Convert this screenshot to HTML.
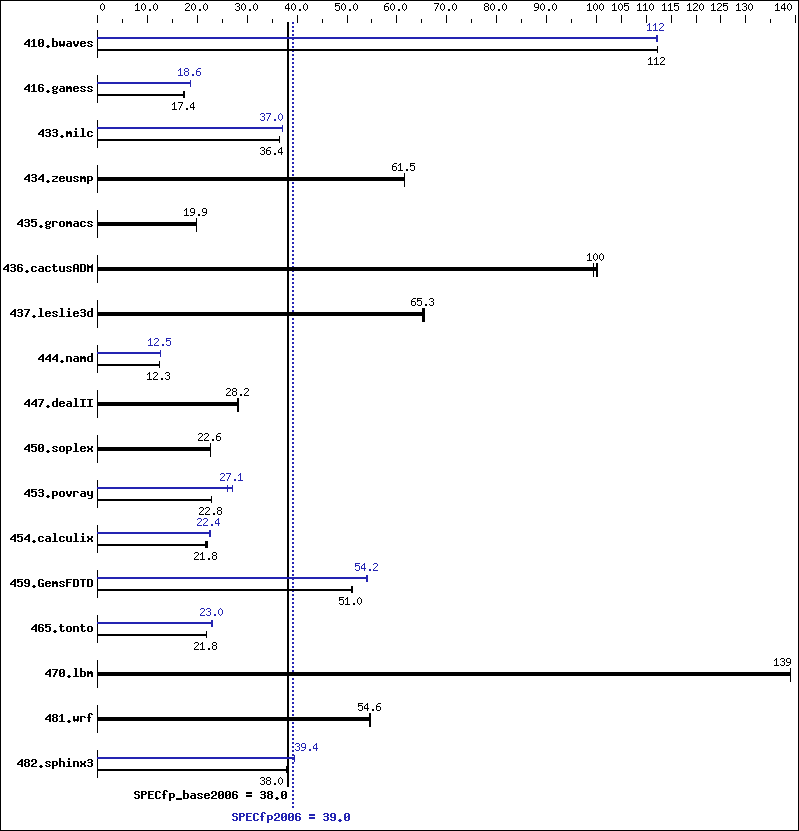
<!DOCTYPE html>
<html><head><meta charset="utf-8"><title>SPECfp2006</title>
<style>html,body{margin:0;padding:0;background:#fff;font-family:"Liberation Sans",sans-serif;}svg{display:block;}</style>
</head><body>
<svg width="799" height="831" viewBox="0 0 799 831" shape-rendering="crispEdges">
<defs><path id="r_0" d="M2 0h1v1h-1zM1 1h1v1h-1zM3 1h1v1h-1zM0 2h1v1h-1zM4 2h1v1h-1zM0 3h1v1h-1zM4 3h1v1h-1zM0 4h1v1h-1zM4 4h1v1h-1zM0 5h1v1h-1zM4 5h1v1h-1zM1 6h1v1h-1zM3 6h1v1h-1zM2 7h1v1h-1z"/><path id="r_1" d="M2 0h1v1h-1zM1 1h2v1h-2zM0 2h1v1h-1zM2 2h1v1h-1zM2 3h1v1h-1zM2 4h1v1h-1zM2 5h1v1h-1zM2 6h1v1h-1zM0 7h5v1h-5z"/><path id="r_2" d="M1 0h3v1h-3zM0 1h1v1h-1zM4 1h1v1h-1zM4 2h1v1h-1zM3 3h1v1h-1zM2 4h1v1h-1zM1 5h1v1h-1zM0 6h1v1h-1zM0 7h5v1h-5z"/><path id="r_3" d="M1 0h3v1h-3zM0 1h1v1h-1zM4 1h1v1h-1zM4 2h1v1h-1zM2 3h2v1h-2zM4 4h1v1h-1zM4 5h1v1h-1zM0 6h1v1h-1zM4 6h1v1h-1zM1 7h3v1h-3z"/><path id="r_4" d="M3 0h1v1h-1zM2 1h2v1h-2zM1 2h1v1h-1zM3 2h1v1h-1zM0 3h1v1h-1zM3 3h1v1h-1zM0 4h1v1h-1zM3 4h1v1h-1zM0 5h5v1h-5zM3 6h1v1h-1zM3 7h1v1h-1z"/><path id="r_5" d="M0 0h5v1h-5zM0 1h1v1h-1zM0 2h4v1h-4zM0 3h1v1h-1zM4 3h1v1h-1zM4 4h1v1h-1zM4 5h1v1h-1zM0 6h1v1h-1zM4 6h1v1h-1zM1 7h3v1h-3z"/><path id="r_6" d="M2 0h3v1h-3zM1 1h1v1h-1zM0 2h1v1h-1zM0 3h4v1h-4zM0 4h1v1h-1zM4 4h1v1h-1zM0 5h1v1h-1zM4 5h1v1h-1zM0 6h1v1h-1zM4 6h1v1h-1zM1 7h3v1h-3z"/><path id="r_7" d="M0 0h5v1h-5zM4 1h1v1h-1zM3 2h1v1h-1zM3 3h1v1h-1zM2 4h1v1h-1zM2 5h1v1h-1zM1 6h1v1h-1zM1 7h1v1h-1z"/><path id="r_8" d="M1 0h3v1h-3zM0 1h1v1h-1zM4 1h1v1h-1zM0 2h1v1h-1zM4 2h1v1h-1zM1 3h3v1h-3zM0 4h1v1h-1zM4 4h1v1h-1zM0 5h1v1h-1zM4 5h1v1h-1zM0 6h1v1h-1zM4 6h1v1h-1zM1 7h3v1h-3z"/><path id="r_9" d="M1 0h3v1h-3zM0 1h1v1h-1zM4 1h1v1h-1zM0 2h1v1h-1zM4 2h1v1h-1zM0 3h1v1h-1zM4 3h1v1h-1zM1 4h4v1h-4zM4 5h1v1h-1zM3 6h1v1h-1zM0 7h3v1h-3z"/><path id="r_dot" d="M2 6h2v1h-2zM2 7h2v1h-2z"/><path id="b_0" d="M1 0h4v1h-4zM0 1h2v1h-2zM4 1h2v1h-2zM0 2h2v1h-2zM4 2h2v1h-2zM0 3h2v1h-2zM3 3h3v1h-3zM0 4h3v1h-3zM4 4h2v1h-2zM0 5h2v1h-2zM4 5h2v1h-2zM0 6h2v1h-2zM4 6h2v1h-2zM1 7h4v1h-4z"/><path id="b_1" d="M2 0h2v1h-2zM1 1h3v1h-3zM0 2h1v1h-1zM2 2h2v1h-2zM2 3h2v1h-2zM2 4h2v1h-2zM2 5h2v1h-2zM2 6h2v1h-2zM0 7h6v1h-6z"/><path id="b_2" d="M1 0h4v1h-4zM0 1h2v1h-2zM4 1h2v1h-2zM0 2h2v1h-2zM4 2h2v1h-2zM4 3h2v1h-2zM2 4h3v1h-3zM1 5h2v1h-2zM0 6h2v1h-2zM0 7h6v1h-6z"/><path id="b_3" d="M1 0h4v1h-4zM0 1h2v1h-2zM4 1h2v1h-2zM4 2h2v1h-2zM1 3h4v1h-4zM4 4h2v1h-2zM4 5h2v1h-2zM0 6h2v1h-2zM4 6h2v1h-2zM1 7h4v1h-4z"/><path id="b_4" d="M4 0h2v1h-2zM3 1h3v1h-3zM2 2h4v1h-4zM1 3h2v1h-2zM4 3h2v1h-2zM0 4h2v1h-2zM4 4h2v1h-2zM0 5h6v1h-6zM4 6h2v1h-2zM4 7h2v1h-2z"/><path id="b_5" d="M0 0h6v1h-6zM0 1h2v1h-2zM0 2h5v1h-5zM0 3h2v1h-2zM4 3h2v1h-2zM4 4h2v1h-2zM4 5h2v1h-2zM0 6h2v1h-2zM4 6h2v1h-2zM1 7h4v1h-4z"/><path id="b_6" d="M1 0h4v1h-4zM0 1h2v1h-2zM4 1h2v1h-2zM0 2h2v1h-2zM0 3h5v1h-5zM0 4h2v1h-2zM4 4h2v1h-2zM0 5h2v1h-2zM4 5h2v1h-2zM0 6h2v1h-2zM4 6h2v1h-2zM1 7h4v1h-4z"/><path id="b_7" d="M0 0h6v1h-6zM4 1h2v1h-2zM3 2h2v1h-2zM3 3h2v1h-2zM2 4h2v1h-2zM2 5h2v1h-2zM1 6h2v1h-2zM1 7h2v1h-2z"/><path id="b_8" d="M1 0h4v1h-4zM0 1h2v1h-2zM4 1h2v1h-2zM0 2h2v1h-2zM4 2h2v1h-2zM1 3h4v1h-4zM0 4h2v1h-2zM4 4h2v1h-2zM0 5h2v1h-2zM4 5h2v1h-2zM0 6h2v1h-2zM4 6h2v1h-2zM1 7h4v1h-4z"/><path id="b_9" d="M1 0h4v1h-4zM0 1h2v1h-2zM4 1h2v1h-2zM0 2h2v1h-2zM4 2h2v1h-2zM0 3h2v1h-2zM4 3h2v1h-2zM1 4h5v1h-5zM4 5h2v1h-2zM0 6h2v1h-2zM4 6h2v1h-2zM1 7h4v1h-4z"/><path id="b_dot" d="M2 6h2v1h-2zM1 7h4v1h-4zM2 8h2v1h-2z"/><path id="b_a" d="M1 2h4v1h-4zM4 3h2v1h-2zM1 4h5v1h-5zM0 5h2v1h-2zM4 5h2v1h-2zM0 6h2v1h-2zM4 6h2v1h-2zM1 7h5v1h-5z"/><path id="b_b" d="M0 -1h2v1h-2zM0 0h2v1h-2zM0 1h2v1h-2zM0 2h5v1h-5zM0 3h2v1h-2zM4 3h2v1h-2zM0 4h2v1h-2zM4 4h2v1h-2zM0 5h2v1h-2zM4 5h2v1h-2zM0 6h2v1h-2zM4 6h2v1h-2zM0 7h5v1h-5z"/><path id="b_c" d="M1 2h4v1h-4zM0 3h2v1h-2zM4 3h2v1h-2zM0 4h2v1h-2zM0 5h2v1h-2zM0 6h2v1h-2zM4 6h2v1h-2zM1 7h4v1h-4z"/><path id="b_d" d="M4 -1h2v1h-2zM4 0h2v1h-2zM4 1h2v1h-2zM1 2h5v1h-5zM0 3h2v1h-2zM4 3h2v1h-2zM0 4h2v1h-2zM4 4h2v1h-2zM0 5h2v1h-2zM4 5h2v1h-2zM0 6h2v1h-2zM4 6h2v1h-2zM1 7h5v1h-5z"/><path id="b_e" d="M1 2h4v1h-4zM0 3h2v1h-2zM4 3h2v1h-2zM0 4h6v1h-6zM0 5h2v1h-2zM0 6h2v1h-2zM4 6h2v1h-2zM1 7h4v1h-4z"/><path id="b_f" d="M2 -1h3v1h-3zM1 0h2v1h-2zM4 0h2v1h-2zM1 1h2v1h-2zM1 2h2v1h-2zM0 3h4v1h-4zM1 4h2v1h-2zM1 5h2v1h-2zM1 6h2v1h-2zM1 7h2v1h-2z"/><path id="b_g" d="M1 2h3v1h-3zM5 2h1v1h-1zM0 3h2v1h-2zM4 3h2v1h-2zM0 4h2v1h-2zM4 4h2v1h-2zM1 5h4v1h-4zM0 6h2v1h-2zM1 7h4v1h-4zM0 8h2v1h-2zM4 8h2v1h-2zM1 9h4v1h-4z"/><path id="b_h" d="M0 -1h2v1h-2zM0 0h2v1h-2zM0 1h2v1h-2zM0 2h5v1h-5zM0 3h2v1h-2zM4 3h2v1h-2zM0 4h2v1h-2zM4 4h2v1h-2zM0 5h2v1h-2zM4 5h2v1h-2zM0 6h2v1h-2zM4 6h2v1h-2zM0 7h2v1h-2zM4 7h2v1h-2z"/><path id="b_i" d="M2 -1h2v1h-2zM2 0h2v1h-2zM1 2h3v1h-3zM2 3h2v1h-2zM2 4h2v1h-2zM2 5h2v1h-2zM2 6h2v1h-2zM0 7h6v1h-6z"/><path id="b_l" d="M1 -1h3v1h-3zM2 0h2v1h-2zM2 1h2v1h-2zM2 2h2v1h-2zM2 3h2v1h-2zM2 4h2v1h-2zM2 5h2v1h-2zM2 6h2v1h-2zM0 7h6v1h-6z"/><path id="b_m" d="M0 2h2v1h-2zM3 2h2v1h-2zM0 3h6v1h-6zM0 4h6v1h-6zM0 5h2v1h-2zM4 5h2v1h-2zM0 6h2v1h-2zM4 6h2v1h-2zM0 7h2v1h-2zM4 7h2v1h-2z"/><path id="b_n" d="M0 2h5v1h-5zM0 3h2v1h-2zM4 3h2v1h-2zM0 4h2v1h-2zM4 4h2v1h-2zM0 5h2v1h-2zM4 5h2v1h-2zM0 6h2v1h-2zM4 6h2v1h-2zM0 7h2v1h-2zM4 7h2v1h-2z"/><path id="b_o" d="M1 2h4v1h-4zM0 3h2v1h-2zM4 3h2v1h-2zM0 4h2v1h-2zM4 4h2v1h-2zM0 5h2v1h-2zM4 5h2v1h-2zM0 6h2v1h-2zM4 6h2v1h-2zM1 7h4v1h-4z"/><path id="b_p" d="M0 2h5v1h-5zM0 3h2v1h-2zM4 3h2v1h-2zM0 4h2v1h-2zM4 4h2v1h-2zM0 5h2v1h-2zM4 5h2v1h-2zM0 6h5v1h-5zM0 7h2v1h-2zM0 8h2v1h-2zM0 9h2v1h-2z"/><path id="b_r" d="M0 2h5v1h-5zM0 3h2v1h-2zM4 3h2v1h-2zM0 4h2v1h-2zM0 5h2v1h-2zM0 6h2v1h-2zM0 7h2v1h-2z"/><path id="b_s" d="M1 2h4v1h-4zM0 3h2v1h-2zM4 3h2v1h-2zM1 4h2v1h-2zM3 5h2v1h-2zM0 6h2v1h-2zM4 6h2v1h-2zM1 7h4v1h-4z"/><path id="b_t" d="M1 0h2v1h-2zM1 1h2v1h-2zM0 2h5v1h-5zM1 3h2v1h-2zM1 4h2v1h-2zM1 5h2v1h-2zM1 6h2v1h-2zM4 6h2v1h-2zM2 7h3v1h-3z"/><path id="b_u" d="M0 2h2v1h-2zM4 2h2v1h-2zM0 3h2v1h-2zM4 3h2v1h-2zM0 4h2v1h-2zM4 4h2v1h-2zM0 5h2v1h-2zM4 5h2v1h-2zM0 6h2v1h-2zM4 6h2v1h-2zM1 7h5v1h-5z"/><path id="b_v" d="M0 2h2v1h-2zM4 2h2v1h-2zM0 3h2v1h-2zM4 3h2v1h-2zM0 4h2v1h-2zM4 4h2v1h-2zM1 5h4v1h-4zM1 6h4v1h-4zM2 7h2v1h-2z"/><path id="b_w" d="M0 2h2v1h-2zM4 2h2v1h-2zM0 3h2v1h-2zM4 3h2v1h-2zM0 4h2v1h-2zM4 4h2v1h-2zM0 5h6v1h-6zM0 6h6v1h-6zM1 7h1v1h-1zM4 7h1v1h-1z"/><path id="b_x" d="M0 2h2v1h-2zM4 2h2v1h-2zM0 3h2v1h-2zM4 3h2v1h-2zM1 4h4v1h-4zM1 5h4v1h-4zM0 6h2v1h-2zM4 6h2v1h-2zM0 7h2v1h-2zM4 7h2v1h-2z"/><path id="b_y" d="M0 2h2v1h-2zM4 2h2v1h-2zM0 3h2v1h-2zM4 3h2v1h-2zM0 4h2v1h-2zM4 4h2v1h-2zM0 5h2v1h-2zM4 5h2v1h-2zM1 6h5v1h-5zM4 7h2v1h-2zM4 8h2v1h-2zM1 9h4v1h-4z"/><path id="b_z" d="M0 2h6v1h-6zM4 3h2v1h-2zM3 4h2v1h-2zM1 5h2v1h-2zM0 6h2v1h-2zM0 7h6v1h-6z"/><path id="b_UA" d="M1 0h4v1h-4zM0 1h2v1h-2zM4 1h2v1h-2zM0 2h2v1h-2zM4 2h2v1h-2zM0 3h2v1h-2zM4 3h2v1h-2zM0 4h6v1h-6zM0 5h2v1h-2zM4 5h2v1h-2zM0 6h2v1h-2zM4 6h2v1h-2zM0 7h2v1h-2zM4 7h2v1h-2z"/><path id="b_UC" d="M1 0h4v1h-4zM0 1h2v1h-2zM4 1h2v1h-2zM0 2h2v1h-2zM0 3h2v1h-2zM0 4h2v1h-2zM0 5h2v1h-2zM0 6h2v1h-2zM4 6h2v1h-2zM1 7h4v1h-4z"/><path id="b_UD" d="M0 0h5v1h-5zM0 1h2v1h-2zM4 1h2v1h-2zM0 2h2v1h-2zM4 2h2v1h-2zM0 3h2v1h-2zM4 3h2v1h-2zM0 4h2v1h-2zM4 4h2v1h-2zM0 5h2v1h-2zM4 5h2v1h-2zM0 6h2v1h-2zM4 6h2v1h-2zM0 7h5v1h-5z"/><path id="b_UE" d="M0 0h6v1h-6zM0 1h2v1h-2zM0 2h2v1h-2zM0 3h5v1h-5zM0 4h2v1h-2zM0 5h2v1h-2zM0 6h2v1h-2zM0 7h6v1h-6z"/><path id="b_UF" d="M0 0h6v1h-6zM0 1h2v1h-2zM0 2h2v1h-2zM0 3h5v1h-5zM0 4h2v1h-2zM0 5h2v1h-2zM0 6h2v1h-2zM0 7h2v1h-2z"/><path id="b_UG" d="M1 0h4v1h-4zM0 1h2v1h-2zM4 1h2v1h-2zM0 2h2v1h-2zM0 3h2v1h-2zM0 4h2v1h-2zM3 4h3v1h-3zM0 5h2v1h-2zM4 5h2v1h-2zM0 6h2v1h-2zM4 6h2v1h-2zM1 7h5v1h-5z"/><path id="b_UI" d="M0 0h6v1h-6zM2 1h2v1h-2zM2 2h2v1h-2zM2 3h2v1h-2zM2 4h2v1h-2zM2 5h2v1h-2zM2 6h2v1h-2zM0 7h6v1h-6z"/><path id="b_UM" d="M0 0h1v1h-1zM5 0h1v1h-1zM0 1h2v1h-2zM4 1h2v1h-2zM0 2h6v1h-6zM0 3h6v1h-6zM0 4h2v1h-2zM4 4h2v1h-2zM0 5h2v1h-2zM4 5h2v1h-2zM0 6h2v1h-2zM4 6h2v1h-2zM0 7h2v1h-2zM4 7h2v1h-2z"/><path id="b_UP" d="M0 0h5v1h-5zM0 1h2v1h-2zM4 1h2v1h-2zM0 2h2v1h-2zM4 2h2v1h-2zM0 3h5v1h-5zM0 4h2v1h-2zM0 5h2v1h-2zM0 6h2v1h-2zM0 7h2v1h-2z"/><path id="b_US" d="M1 0h4v1h-4zM0 1h2v1h-2zM4 1h2v1h-2zM0 2h2v1h-2zM1 3h4v1h-4zM4 4h2v1h-2zM4 5h2v1h-2zM0 6h2v1h-2zM4 6h2v1h-2zM1 7h4v1h-4z"/><path id="b_UT" d="M0 0h6v1h-6zM2 1h2v1h-2zM2 2h2v1h-2zM2 3h2v1h-2zM2 4h2v1h-2zM2 5h2v1h-2zM2 6h2v1h-2zM2 7h2v1h-2z"/><path id="b_us" d="M0 7h6v1h-6zM0 8h6v1h-6z"/><path id="b_eq" d="M0 1h6v1h-6zM0 2h6v1h-6zM0 4h6v1h-6zM0 5h6v1h-6z"/></defs>
<rect x="0" y="0" width="799" height="831" fill="#fff"/>
<rect x="0" y="0" width="799" height="1" fill="#000"/>
<rect x="0" y="830" width="799" height="1" fill="#000"/>
<rect x="0" y="0" width="1" height="831" fill="#000"/>
<rect x="798" y="0" width="1" height="831" fill="#000"/>
<rect x="97" y="15" width="1" height="8" fill="#000"/>
<rect x="147" y="15" width="1" height="8" fill="#000"/>
<rect x="197" y="15" width="1" height="8" fill="#000"/>
<rect x="247" y="15" width="1" height="8" fill="#000"/>
<rect x="297" y="15" width="1" height="8" fill="#000"/>
<rect x="347" y="15" width="1" height="8" fill="#000"/>
<rect x="396" y="15" width="1" height="8" fill="#000"/>
<rect x="446" y="15" width="1" height="8" fill="#000"/>
<rect x="496" y="15" width="1" height="8" fill="#000"/>
<rect x="546" y="15" width="1" height="8" fill="#000"/>
<rect x="596" y="15" width="1" height="8" fill="#000"/>
<rect x="621" y="15" width="1" height="8" fill="#000"/>
<rect x="646" y="15" width="1" height="8" fill="#000"/>
<rect x="671" y="15" width="1" height="8" fill="#000"/>
<rect x="696" y="15" width="1" height="8" fill="#000"/>
<rect x="720" y="15" width="1" height="8" fill="#000"/>
<rect x="745" y="15" width="1" height="8" fill="#000"/>
<rect x="795" y="15" width="1" height="8" fill="#000"/>
<rect x="122" y="19" width="1" height="4" fill="#000"/>
<rect x="172" y="19" width="1" height="4" fill="#000"/>
<rect x="222" y="19" width="1" height="4" fill="#000"/>
<rect x="272" y="19" width="1" height="4" fill="#000"/>
<rect x="322" y="19" width="1" height="4" fill="#000"/>
<rect x="371" y="19" width="1" height="4" fill="#000"/>
<rect x="421" y="19" width="1" height="4" fill="#000"/>
<rect x="471" y="19" width="1" height="4" fill="#000"/>
<rect x="521" y="19" width="1" height="4" fill="#000"/>
<rect x="571" y="19" width="1" height="4" fill="#000"/>
<rect x="770" y="19" width="1" height="4" fill="#000"/>
<g fill="#000"><use href="#r_0" x="100" y="3"/></g>
<g fill="#000"><use href="#r_1" x="135" y="3"/><use href="#r_0" x="141" y="3"/><use href="#r_dot" x="147" y="3"/><use href="#r_0" x="153" y="3"/></g>
<g fill="#000"><use href="#r_2" x="185" y="3"/><use href="#r_0" x="191" y="3"/><use href="#r_dot" x="197" y="3"/><use href="#r_0" x="203" y="3"/></g>
<g fill="#000"><use href="#r_3" x="235" y="3"/><use href="#r_0" x="241" y="3"/><use href="#r_dot" x="247" y="3"/><use href="#r_0" x="253" y="3"/></g>
<g fill="#000"><use href="#r_4" x="285" y="3"/><use href="#r_0" x="291" y="3"/><use href="#r_dot" x="297" y="3"/><use href="#r_0" x="303" y="3"/></g>
<g fill="#000"><use href="#r_5" x="335" y="3"/><use href="#r_0" x="341" y="3"/><use href="#r_dot" x="347" y="3"/><use href="#r_0" x="353" y="3"/></g>
<g fill="#000"><use href="#r_6" x="384" y="3"/><use href="#r_0" x="390" y="3"/><use href="#r_dot" x="396" y="3"/><use href="#r_0" x="402" y="3"/></g>
<g fill="#000"><use href="#r_7" x="434" y="3"/><use href="#r_0" x="440" y="3"/><use href="#r_dot" x="446" y="3"/><use href="#r_0" x="452" y="3"/></g>
<g fill="#000"><use href="#r_8" x="484" y="3"/><use href="#r_0" x="490" y="3"/><use href="#r_dot" x="496" y="3"/><use href="#r_0" x="502" y="3"/></g>
<g fill="#000"><use href="#r_9" x="534" y="3"/><use href="#r_0" x="540" y="3"/><use href="#r_dot" x="546" y="3"/><use href="#r_0" x="552" y="3"/></g>
<g fill="#000"><use href="#r_1" x="587" y="3"/><use href="#r_0" x="593" y="3"/><use href="#r_0" x="599" y="3"/></g>
<g fill="#000"><use href="#r_1" x="612" y="3"/><use href="#r_0" x="618" y="3"/><use href="#r_5" x="624" y="3"/></g>
<g fill="#000"><use href="#r_1" x="637" y="3"/><use href="#r_1" x="643" y="3"/><use href="#r_0" x="649" y="3"/></g>
<g fill="#000"><use href="#r_1" x="662" y="3"/><use href="#r_1" x="668" y="3"/><use href="#r_5" x="674" y="3"/></g>
<g fill="#000"><use href="#r_1" x="687" y="3"/><use href="#r_2" x="693" y="3"/><use href="#r_0" x="699" y="3"/></g>
<g fill="#000"><use href="#r_1" x="711" y="3"/><use href="#r_2" x="717" y="3"/><use href="#r_5" x="723" y="3"/></g>
<g fill="#000"><use href="#r_1" x="736" y="3"/><use href="#r_3" x="742" y="3"/><use href="#r_0" x="748" y="3"/></g>
<g fill="#000"><use href="#r_1" x="775" y="3"/><use href="#r_4" x="781" y="3"/><use href="#r_0" x="787" y="3"/></g>
<rect x="287" y="22" width="2" height="765" fill="#000"/>
<path fill="#2424b2" d="M292 22h2v2h-2zM292 26h2v2h-2zM292 30h2v2h-2zM292 34h2v2h-2zM292 38h2v2h-2zM292 42h2v2h-2zM292 46h2v2h-2zM292 50h2v2h-2zM292 54h2v2h-2zM292 58h2v2h-2zM292 62h2v2h-2zM292 66h2v2h-2zM292 70h2v2h-2zM292 74h2v2h-2zM292 78h2v2h-2zM292 82h2v2h-2zM292 86h2v2h-2zM292 90h2v2h-2zM292 94h2v2h-2zM292 98h2v2h-2zM292 102h2v2h-2zM292 106h2v2h-2zM292 110h2v2h-2zM292 114h2v2h-2zM292 118h2v2h-2zM292 122h2v2h-2zM292 126h2v2h-2zM292 130h2v2h-2zM292 134h2v2h-2zM292 138h2v2h-2zM292 142h2v2h-2zM292 146h2v2h-2zM292 150h2v2h-2zM292 154h2v2h-2zM292 158h2v2h-2zM292 162h2v2h-2zM292 166h2v2h-2zM292 170h2v2h-2zM292 174h2v2h-2zM292 178h2v2h-2zM292 182h2v2h-2zM292 186h2v2h-2zM292 190h2v2h-2zM292 194h2v2h-2zM292 198h2v2h-2zM292 202h2v2h-2zM292 206h2v2h-2zM292 210h2v2h-2zM292 214h2v2h-2zM292 218h2v2h-2zM292 222h2v2h-2zM292 226h2v2h-2zM292 230h2v2h-2zM292 234h2v2h-2zM292 238h2v2h-2zM292 242h2v2h-2zM292 246h2v2h-2zM292 250h2v2h-2zM292 254h2v2h-2zM292 258h2v2h-2zM292 262h2v2h-2zM292 266h2v2h-2zM292 270h2v2h-2zM292 274h2v2h-2zM292 278h2v2h-2zM292 282h2v2h-2zM292 286h2v2h-2zM292 290h2v2h-2zM292 294h2v2h-2zM292 298h2v2h-2zM292 302h2v2h-2zM292 306h2v2h-2zM292 310h2v2h-2zM292 314h2v2h-2zM292 318h2v2h-2zM292 322h2v2h-2zM292 326h2v2h-2zM292 330h2v2h-2zM292 334h2v2h-2zM292 338h2v2h-2zM292 342h2v2h-2zM292 346h2v2h-2zM292 350h2v2h-2zM292 354h2v2h-2zM292 358h2v2h-2zM292 362h2v2h-2zM292 366h2v2h-2zM292 370h2v2h-2zM292 374h2v2h-2zM292 378h2v2h-2zM292 382h2v2h-2zM292 386h2v2h-2zM292 390h2v2h-2zM292 394h2v2h-2zM292 398h2v2h-2zM292 402h2v2h-2zM292 406h2v2h-2zM292 410h2v2h-2zM292 414h2v2h-2zM292 418h2v2h-2zM292 422h2v2h-2zM292 426h2v2h-2zM292 430h2v2h-2zM292 434h2v2h-2zM292 438h2v2h-2zM292 442h2v2h-2zM292 446h2v2h-2zM292 450h2v2h-2zM292 454h2v2h-2zM292 458h2v2h-2zM292 462h2v2h-2zM292 466h2v2h-2zM292 470h2v2h-2zM292 474h2v2h-2zM292 478h2v2h-2zM292 482h2v2h-2zM292 486h2v2h-2zM292 490h2v2h-2zM292 494h2v2h-2zM292 498h2v2h-2zM292 502h2v2h-2zM292 506h2v2h-2zM292 510h2v2h-2zM292 514h2v2h-2zM292 518h2v2h-2zM292 522h2v2h-2zM292 526h2v2h-2zM292 530h2v2h-2zM292 534h2v2h-2zM292 538h2v2h-2zM292 542h2v2h-2zM292 546h2v2h-2zM292 550h2v2h-2zM292 554h2v2h-2zM292 558h2v2h-2zM292 562h2v2h-2zM292 566h2v2h-2zM292 570h2v2h-2zM292 574h2v2h-2zM292 578h2v2h-2zM292 582h2v2h-2zM292 586h2v2h-2zM292 590h2v2h-2zM292 594h2v2h-2zM292 598h2v2h-2zM292 602h2v2h-2zM292 606h2v2h-2zM292 610h2v2h-2zM292 614h2v2h-2zM292 618h2v2h-2zM292 622h2v2h-2zM292 626h2v2h-2zM292 630h2v2h-2zM292 634h2v2h-2zM292 638h2v2h-2zM292 642h2v2h-2zM292 646h2v2h-2zM292 650h2v2h-2zM292 654h2v2h-2zM292 658h2v2h-2zM292 662h2v2h-2zM292 666h2v2h-2zM292 670h2v2h-2zM292 674h2v2h-2zM292 678h2v2h-2zM292 682h2v2h-2zM292 686h2v2h-2zM292 690h2v2h-2zM292 694h2v2h-2zM292 698h2v2h-2zM292 702h2v2h-2zM292 706h2v2h-2zM292 710h2v2h-2zM292 714h2v2h-2zM292 718h2v2h-2zM292 722h2v2h-2zM292 726h2v2h-2zM292 730h2v2h-2zM292 734h2v2h-2zM292 738h2v2h-2zM292 742h2v2h-2zM292 746h2v2h-2zM292 750h2v2h-2zM292 754h2v2h-2zM292 758h2v2h-2zM292 762h2v2h-2zM292 766h2v2h-2zM292 770h2v2h-2zM292 774h2v2h-2zM292 778h2v2h-2zM292 782h2v2h-2zM292 786h2v2h-2zM292 790h2v2h-2zM292 794h2v2h-2zM292 798h2v2h-2zM292 802h2v2h-2zM292 806h2v2h-2z"/>
<rect x="97" y="30" width="1" height="28" fill="#000"/>
<g fill="#000"><use href="#b_4" x="24" y="39"/><use href="#b_1" x="31" y="39"/><use href="#b_0" x="38" y="39"/><use href="#b_dot" x="45" y="39"/><use href="#b_b" x="52" y="39"/><use href="#b_w" x="59" y="39"/><use href="#b_a" x="66" y="39"/><use href="#b_v" x="73" y="39"/><use href="#b_e" x="80" y="39"/><use href="#b_s" x="87" y="39"/></g>
<rect x="97" y="49" width="561" height="2" fill="#000"/>
<rect x="657" y="46" width="1" height="7" fill="#000"/>
<g fill="#000"><use href="#r_1" x="648" y="57"/><use href="#r_1" x="654" y="57"/><use href="#r_2" x="660" y="57"/></g>
<rect x="97" y="37" width="561" height="2" fill="#2424b2"/>
<rect x="656" y="35" width="1" height="7" fill="#2424b2"/>
<rect x="657" y="35" width="1" height="7" fill="#2424b2"/>
<g fill="#2424b2"><use href="#r_1" x="647" y="23"/><use href="#r_1" x="653" y="23"/><use href="#r_2" x="659" y="23"/></g>
<rect x="97" y="75" width="1" height="28" fill="#000"/>
<g fill="#000"><use href="#b_4" x="24" y="84"/><use href="#b_1" x="31" y="84"/><use href="#b_6" x="38" y="84"/><use href="#b_dot" x="45" y="84"/><use href="#b_g" x="52" y="84"/><use href="#b_a" x="59" y="84"/><use href="#b_m" x="66" y="84"/><use href="#b_e" x="73" y="84"/><use href="#b_s" x="80" y="84"/><use href="#b_s" x="87" y="84"/></g>
<rect x="97" y="94" width="88" height="2" fill="#000"/>
<rect x="183" y="91" width="1" height="7" fill="#000"/>
<rect x="184" y="91" width="1" height="7" fill="#000"/>
<g fill="#000"><use href="#r_1" x="172" y="102"/><use href="#r_7" x="178" y="102"/><use href="#r_dot" x="184" y="102"/><use href="#r_4" x="190" y="102"/></g>
<rect x="97" y="82" width="94" height="2" fill="#2424b2"/>
<rect x="190" y="80" width="1" height="7" fill="#2424b2"/>
<g fill="#2424b2"><use href="#r_1" x="178" y="68"/><use href="#r_8" x="184" y="68"/><use href="#r_dot" x="190" y="68"/><use href="#r_6" x="196" y="68"/></g>
<rect x="97" y="120" width="1" height="28" fill="#000"/>
<g fill="#000"><use href="#b_4" x="38" y="129"/><use href="#b_3" x="45" y="129"/><use href="#b_3" x="52" y="129"/><use href="#b_dot" x="59" y="129"/><use href="#b_m" x="66" y="129"/><use href="#b_i" x="73" y="129"/><use href="#b_l" x="80" y="129"/><use href="#b_c" x="87" y="129"/></g>
<rect x="97" y="139" width="183" height="2" fill="#000"/>
<rect x="279" y="136" width="1" height="7" fill="#000"/>
<g fill="#000"><use href="#r_3" x="260" y="147"/><use href="#r_6" x="266" y="147"/><use href="#r_dot" x="272" y="147"/><use href="#r_4" x="278" y="147"/></g>
<rect x="97" y="127" width="186" height="2" fill="#2424b2"/>
<rect x="282" y="125" width="1" height="7" fill="#2424b2"/>
<g fill="#2424b2"><use href="#r_3" x="260" y="113"/><use href="#r_7" x="266" y="113"/><use href="#r_dot" x="272" y="113"/><use href="#r_0" x="278" y="113"/></g>
<rect x="97" y="165" width="1" height="28" fill="#000"/>
<g fill="#000"><use href="#b_4" x="24" y="174"/><use href="#b_3" x="31" y="174"/><use href="#b_4" x="38" y="174"/><use href="#b_dot" x="45" y="174"/><use href="#b_z" x="52" y="174"/><use href="#b_e" x="59" y="174"/><use href="#b_u" x="66" y="174"/><use href="#b_s" x="73" y="174"/><use href="#b_m" x="80" y="174"/><use href="#b_p" x="87" y="174"/></g>
<rect x="97" y="177" width="308" height="4" fill="#000"/>
<rect x="404" y="173" width="1" height="14" fill="#000"/>
<g fill="#000"><use href="#r_6" x="392" y="163"/><use href="#r_1" x="398" y="163"/><use href="#r_dot" x="404" y="163"/><use href="#r_5" x="410" y="163"/></g>
<rect x="97" y="210" width="1" height="28" fill="#000"/>
<g fill="#000"><use href="#b_4" x="17" y="219"/><use href="#b_3" x="24" y="219"/><use href="#b_5" x="31" y="219"/><use href="#b_dot" x="38" y="219"/><use href="#b_g" x="45" y="219"/><use href="#b_r" x="52" y="219"/><use href="#b_o" x="59" y="219"/><use href="#b_m" x="66" y="219"/><use href="#b_a" x="73" y="219"/><use href="#b_c" x="80" y="219"/><use href="#b_s" x="87" y="219"/></g>
<rect x="97" y="222" width="100" height="4" fill="#000"/>
<rect x="196" y="218" width="1" height="14" fill="#000"/>
<g fill="#000"><use href="#r_1" x="184" y="208"/><use href="#r_9" x="190" y="208"/><use href="#r_dot" x="196" y="208"/><use href="#r_9" x="202" y="208"/></g>
<rect x="97" y="255" width="1" height="28" fill="#000"/>
<g fill="#000"><use href="#b_4" x="3" y="264"/><use href="#b_3" x="10" y="264"/><use href="#b_6" x="17" y="264"/><use href="#b_dot" x="24" y="264"/><use href="#b_c" x="31" y="264"/><use href="#b_a" x="38" y="264"/><use href="#b_c" x="45" y="264"/><use href="#b_t" x="52" y="264"/><use href="#b_u" x="59" y="264"/><use href="#b_s" x="66" y="264"/><use href="#b_UA" x="73" y="264"/><use href="#b_UD" x="80" y="264"/><use href="#b_UM" x="87" y="264"/></g>
<rect x="97" y="267" width="501" height="4" fill="#000"/>
<rect x="593" y="263" width="1" height="14" fill="#000"/>
<rect x="596" y="263" width="1" height="14" fill="#000"/>
<rect x="597" y="263" width="1" height="14" fill="#000"/>
<g fill="#000"><use href="#r_1" x="587" y="253"/><use href="#r_0" x="593" y="253"/><use href="#r_0" x="599" y="253"/></g>
<rect x="97" y="300" width="1" height="28" fill="#000"/>
<g fill="#000"><use href="#b_4" x="10" y="309"/><use href="#b_3" x="17" y="309"/><use href="#b_7" x="24" y="309"/><use href="#b_dot" x="31" y="309"/><use href="#b_l" x="38" y="309"/><use href="#b_e" x="45" y="309"/><use href="#b_s" x="52" y="309"/><use href="#b_l" x="59" y="309"/><use href="#b_i" x="66" y="309"/><use href="#b_e" x="73" y="309"/><use href="#b_3" x="80" y="309"/><use href="#b_d" x="87" y="309"/></g>
<rect x="97" y="312" width="328" height="4" fill="#000"/>
<rect x="422" y="308" width="1" height="14" fill="#000"/>
<rect x="423" y="308" width="1" height="14" fill="#000"/>
<rect x="424" y="308" width="1" height="14" fill="#000"/>
<g fill="#000"><use href="#r_6" x="411" y="298"/><use href="#r_5" x="417" y="298"/><use href="#r_dot" x="423" y="298"/><use href="#r_3" x="429" y="298"/></g>
<rect x="97" y="345" width="1" height="28" fill="#000"/>
<g fill="#000"><use href="#b_4" x="38" y="354"/><use href="#b_4" x="45" y="354"/><use href="#b_4" x="52" y="354"/><use href="#b_dot" x="59" y="354"/><use href="#b_n" x="66" y="354"/><use href="#b_a" x="73" y="354"/><use href="#b_m" x="80" y="354"/><use href="#b_d" x="87" y="354"/></g>
<rect x="97" y="364" width="63" height="2" fill="#000"/>
<rect x="159" y="361" width="1" height="7" fill="#000"/>
<g fill="#000"><use href="#r_1" x="147" y="372"/><use href="#r_2" x="153" y="372"/><use href="#r_dot" x="159" y="372"/><use href="#r_3" x="165" y="372"/></g>
<rect x="97" y="352" width="64" height="2" fill="#2424b2"/>
<rect x="160" y="350" width="1" height="7" fill="#2424b2"/>
<g fill="#2424b2"><use href="#r_1" x="148" y="338"/><use href="#r_2" x="154" y="338"/><use href="#r_dot" x="160" y="338"/><use href="#r_5" x="166" y="338"/></g>
<rect x="97" y="390" width="1" height="28" fill="#000"/>
<g fill="#000"><use href="#b_4" x="24" y="399"/><use href="#b_4" x="31" y="399"/><use href="#b_7" x="38" y="399"/><use href="#b_dot" x="45" y="399"/><use href="#b_d" x="52" y="399"/><use href="#b_e" x="59" y="399"/><use href="#b_a" x="66" y="399"/><use href="#b_l" x="73" y="399"/><use href="#b_UI" x="80" y="399"/><use href="#b_UI" x="87" y="399"/></g>
<rect x="97" y="402" width="142" height="4" fill="#000"/>
<rect x="237" y="398" width="1" height="14" fill="#000"/>
<rect x="238" y="398" width="1" height="14" fill="#000"/>
<g fill="#000"><use href="#r_2" x="226" y="388"/><use href="#r_8" x="232" y="388"/><use href="#r_dot" x="238" y="388"/><use href="#r_2" x="244" y="388"/></g>
<rect x="97" y="435" width="1" height="28" fill="#000"/>
<g fill="#000"><use href="#b_4" x="24" y="444"/><use href="#b_5" x="31" y="444"/><use href="#b_0" x="38" y="444"/><use href="#b_dot" x="45" y="444"/><use href="#b_s" x="52" y="444"/><use href="#b_o" x="59" y="444"/><use href="#b_p" x="66" y="444"/><use href="#b_l" x="73" y="444"/><use href="#b_e" x="80" y="444"/><use href="#b_x" x="87" y="444"/></g>
<rect x="97" y="447" width="114" height="4" fill="#000"/>
<rect x="210" y="443" width="1" height="14" fill="#000"/>
<g fill="#000"><use href="#r_2" x="198" y="433"/><use href="#r_2" x="204" y="433"/><use href="#r_dot" x="210" y="433"/><use href="#r_6" x="216" y="433"/></g>
<rect x="97" y="480" width="1" height="28" fill="#000"/>
<g fill="#000"><use href="#b_4" x="24" y="489"/><use href="#b_5" x="31" y="489"/><use href="#b_3" x="38" y="489"/><use href="#b_dot" x="45" y="489"/><use href="#b_p" x="52" y="489"/><use href="#b_o" x="59" y="489"/><use href="#b_v" x="66" y="489"/><use href="#b_r" x="73" y="489"/><use href="#b_a" x="80" y="489"/><use href="#b_y" x="87" y="489"/></g>
<rect x="97" y="499" width="115" height="2" fill="#000"/>
<rect x="211" y="496" width="1" height="7" fill="#000"/>
<g fill="#000"><use href="#r_2" x="199" y="507"/><use href="#r_2" x="205" y="507"/><use href="#r_dot" x="211" y="507"/><use href="#r_8" x="217" y="507"/></g>
<rect x="97" y="487" width="136" height="2" fill="#2424b2"/>
<rect x="227" y="485" width="1" height="7" fill="#2424b2"/>
<rect x="232" y="485" width="1" height="7" fill="#2424b2"/>
<g fill="#2424b2"><use href="#r_2" x="220" y="473"/><use href="#r_7" x="226" y="473"/><use href="#r_dot" x="232" y="473"/><use href="#r_1" x="238" y="473"/></g>
<rect x="97" y="525" width="1" height="28" fill="#000"/>
<g fill="#000"><use href="#b_4" x="10" y="534"/><use href="#b_5" x="17" y="534"/><use href="#b_4" x="24" y="534"/><use href="#b_dot" x="31" y="534"/><use href="#b_c" x="38" y="534"/><use href="#b_a" x="45" y="534"/><use href="#b_l" x="52" y="534"/><use href="#b_c" x="59" y="534"/><use href="#b_u" x="66" y="534"/><use href="#b_l" x="73" y="534"/><use href="#b_i" x="80" y="534"/><use href="#b_x" x="87" y="534"/></g>
<rect x="97" y="544" width="111" height="2" fill="#000"/>
<rect x="205" y="541" width="1" height="7" fill="#000"/>
<rect x="206" y="541" width="1" height="7" fill="#000"/>
<rect x="207" y="541" width="1" height="7" fill="#000"/>
<g fill="#000"><use href="#r_2" x="194" y="552"/><use href="#r_1" x="200" y="552"/><use href="#r_dot" x="206" y="552"/><use href="#r_8" x="212" y="552"/></g>
<rect x="97" y="532" width="114" height="2" fill="#2424b2"/>
<rect x="209" y="530" width="1" height="7" fill="#2424b2"/>
<rect x="210" y="530" width="1" height="7" fill="#2424b2"/>
<g fill="#2424b2"><use href="#r_2" x="197" y="518"/><use href="#r_2" x="203" y="518"/><use href="#r_dot" x="209" y="518"/><use href="#r_4" x="215" y="518"/></g>
<rect x="97" y="570" width="1" height="28" fill="#000"/>
<g fill="#000"><use href="#b_4" x="10" y="579"/><use href="#b_5" x="17" y="579"/><use href="#b_9" x="24" y="579"/><use href="#b_dot" x="31" y="579"/><use href="#b_UG" x="38" y="579"/><use href="#b_e" x="45" y="579"/><use href="#b_m" x="52" y="579"/><use href="#b_s" x="59" y="579"/><use href="#b_UF" x="66" y="579"/><use href="#b_UD" x="73" y="579"/><use href="#b_UT" x="80" y="579"/><use href="#b_UD" x="87" y="579"/></g>
<rect x="97" y="589" width="256" height="2" fill="#000"/>
<rect x="351" y="586" width="1" height="7" fill="#000"/>
<rect x="352" y="586" width="1" height="7" fill="#000"/>
<g fill="#000"><use href="#r_5" x="339" y="597"/><use href="#r_1" x="345" y="597"/><use href="#r_dot" x="351" y="597"/><use href="#r_0" x="357" y="597"/></g>
<rect x="97" y="577" width="271" height="2" fill="#2424b2"/>
<rect x="366" y="575" width="1" height="7" fill="#2424b2"/>
<rect x="367" y="575" width="1" height="7" fill="#2424b2"/>
<g fill="#2424b2"><use href="#r_5" x="355" y="563"/><use href="#r_4" x="361" y="563"/><use href="#r_dot" x="367" y="563"/><use href="#r_2" x="373" y="563"/></g>
<rect x="97" y="615" width="1" height="28" fill="#000"/>
<g fill="#000"><use href="#b_4" x="31" y="624"/><use href="#b_6" x="38" y="624"/><use href="#b_5" x="45" y="624"/><use href="#b_dot" x="52" y="624"/><use href="#b_t" x="59" y="624"/><use href="#b_o" x="66" y="624"/><use href="#b_n" x="73" y="624"/><use href="#b_t" x="80" y="624"/><use href="#b_o" x="87" y="624"/></g>
<rect x="97" y="634" width="110" height="2" fill="#000"/>
<rect x="206" y="631" width="1" height="7" fill="#000"/>
<g fill="#000"><use href="#r_2" x="194" y="642"/><use href="#r_1" x="200" y="642"/><use href="#r_dot" x="206" y="642"/><use href="#r_8" x="212" y="642"/></g>
<rect x="97" y="622" width="116" height="2" fill="#2424b2"/>
<rect x="211" y="620" width="1" height="7" fill="#2424b2"/>
<rect x="212" y="620" width="1" height="7" fill="#2424b2"/>
<g fill="#2424b2"><use href="#r_2" x="200" y="608"/><use href="#r_3" x="206" y="608"/><use href="#r_dot" x="212" y="608"/><use href="#r_0" x="218" y="608"/></g>
<rect x="97" y="660" width="1" height="28" fill="#000"/>
<g fill="#000"><use href="#b_4" x="45" y="669"/><use href="#b_7" x="52" y="669"/><use href="#b_0" x="59" y="669"/><use href="#b_dot" x="66" y="669"/><use href="#b_l" x="73" y="669"/><use href="#b_b" x="80" y="669"/><use href="#b_m" x="87" y="669"/></g>
<rect x="97" y="672" width="694" height="4" fill="#000"/>
<rect x="790" y="668" width="1" height="14" fill="#000"/>
<g fill="#000"><use href="#r_1" x="774" y="658"/><use href="#r_3" x="780" y="658"/><use href="#r_9" x="786" y="658"/></g>
<rect x="97" y="705" width="1" height="28" fill="#000"/>
<g fill="#000"><use href="#b_4" x="45" y="714"/><use href="#b_8" x="52" y="714"/><use href="#b_1" x="59" y="714"/><use href="#b_dot" x="66" y="714"/><use href="#b_w" x="73" y="714"/><use href="#b_r" x="80" y="714"/><use href="#b_f" x="87" y="714"/></g>
<rect x="97" y="717" width="274" height="4" fill="#000"/>
<rect x="369" y="713" width="1" height="14" fill="#000"/>
<rect x="370" y="713" width="1" height="14" fill="#000"/>
<g fill="#000"><use href="#r_5" x="358" y="703"/><use href="#r_4" x="364" y="703"/><use href="#r_dot" x="370" y="703"/><use href="#r_6" x="376" y="703"/></g>
<rect x="97" y="750" width="1" height="28" fill="#000"/>
<g fill="#000"><use href="#b_4" x="17" y="759"/><use href="#b_8" x="24" y="759"/><use href="#b_2" x="31" y="759"/><use href="#b_dot" x="38" y="759"/><use href="#b_s" x="45" y="759"/><use href="#b_p" x="52" y="759"/><use href="#b_h" x="59" y="759"/><use href="#b_i" x="66" y="759"/><use href="#b_n" x="73" y="759"/><use href="#b_x" x="80" y="759"/><use href="#b_3" x="87" y="759"/></g>
<rect x="97" y="769" width="190" height="2" fill="#000"/>
<rect x="286" y="766" width="1" height="7" fill="#000"/>
<g fill="#000"><use href="#r_3" x="260" y="777"/><use href="#r_8" x="266" y="777"/><use href="#r_dot" x="272" y="777"/><use href="#r_0" x="278" y="777"/></g>
<rect x="97" y="757" width="198" height="2" fill="#2424b2"/>
<rect x="294" y="755" width="1" height="7" fill="#2424b2"/>
<g fill="#2424b2"><use href="#r_3" x="295" y="743"/><use href="#r_9" x="301" y="743"/><use href="#r_dot" x="307" y="743"/><use href="#r_4" x="313" y="743"/></g>
<g fill="#000"><use href="#b_US" x="134" y="791"/><use href="#b_UP" x="141" y="791"/><use href="#b_UE" x="148" y="791"/><use href="#b_UC" x="155" y="791"/><use href="#b_f" x="162" y="791"/><use href="#b_p" x="169" y="791"/><use href="#b_us" x="176" y="791"/><use href="#b_b" x="183" y="791"/><use href="#b_a" x="190" y="791"/><use href="#b_s" x="197" y="791"/><use href="#b_e" x="204" y="791"/><use href="#b_2" x="211" y="791"/><use href="#b_0" x="218" y="791"/><use href="#b_0" x="225" y="791"/><use href="#b_6" x="232" y="791"/><use href="#b_eq" x="246" y="791"/><use href="#b_3" x="260" y="791"/><use href="#b_8" x="267" y="791"/><use href="#b_dot" x="274" y="791"/><use href="#b_0" x="281" y="791"/></g>
<g fill="#2424b2"><use href="#b_US" x="232" y="813"/><use href="#b_UP" x="239" y="813"/><use href="#b_UE" x="246" y="813"/><use href="#b_UC" x="253" y="813"/><use href="#b_f" x="260" y="813"/><use href="#b_p" x="267" y="813"/><use href="#b_2" x="274" y="813"/><use href="#b_0" x="281" y="813"/><use href="#b_0" x="288" y="813"/><use href="#b_6" x="295" y="813"/><use href="#b_eq" x="309" y="813"/><use href="#b_3" x="323" y="813"/><use href="#b_9" x="330" y="813"/><use href="#b_dot" x="337" y="813"/><use href="#b_0" x="344" y="813"/></g>
</svg>
</body></html>
